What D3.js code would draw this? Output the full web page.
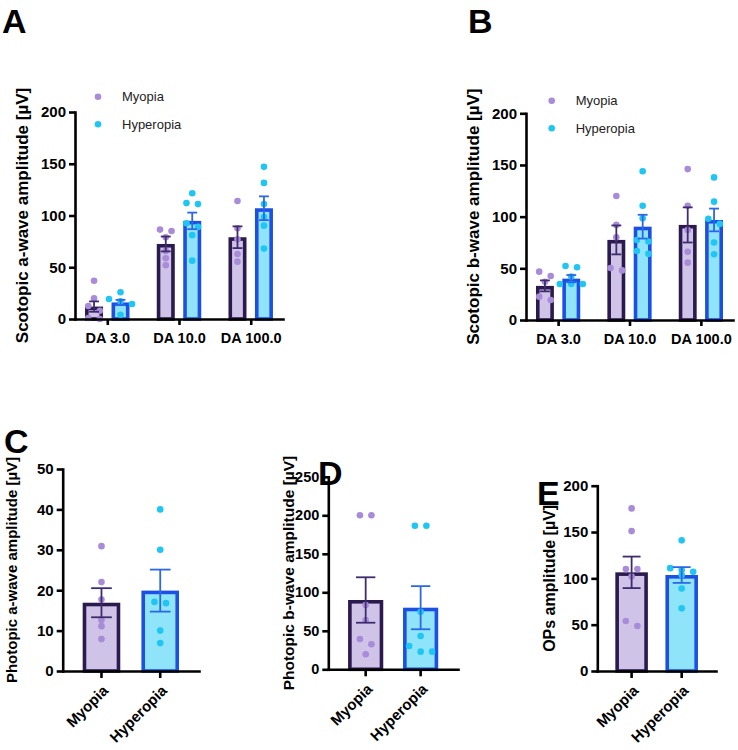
<!DOCTYPE html>
<html><head><meta charset="utf-8">
<script src="https://cdn.jsdelivr.net/npm/d3@7"></script>
<style>
body{margin:0;background:#fff}
text{font-family:"Liberation Sans",Arial,Helvetica,sans-serif}
</style>
</head><body>
<svg id="chart" width="738" height="750"></svg>
<script>
// ---------- DATA ----------
const groupsAB = ["DA 3.0", "DA 10.0", "DA 100.0"];
const seriesNames = ["Myopia", "Hyperopia"];

const aMyopiaMean = [12, 72.5, 79];
const aMyopiaSem  = [5, 7.2, 10.5];
const aHyperMean  = [16, 94.8, 107];
const aHyperSem   = [2.5, 8, 11.5];
const aMyopiaPts  = [[37, 20, 12.6, 8, 1, 0], [86.4, 85, 79, 65.8, 58.7, 51.9], [114, 87.7, 77, 62.8, 55.4]];
const aHyperPts   = [[25.8, 19.3, 17, 14.5, 4], [121.5, 112, 111, 92.5, 89, 81, 56.4], [147, 131.5, 111, 98.6, 90.2, 68]];

const bMyopiaMean = [33, 77.5, 92];
const bMyopiaSem  = [5.3, 14, 17];
const bHyperMean  = [40, 90.3, 96.8];
const bHyperSem   = [3.5, 11.5, 11];
const bMyopiaPts  = [[46.8, 42.6, 37, 22.6, 19.4], [120, 92, 80, 50.3, 48], [146, 110.6, 87, 66, 55.5]];
const bHyperPts   = [[52.3, 51, 42, 34.8, 34.8, 34.8], [144, 110.6, 98.4, 77.4, 76, 66.8, 64], [138, 114.5, 98, 93, 75, 63.6]];

const cMean = [16.9, 19.9];
const cSem  = [3.6, 5.2];
const cPts  = [[30.9, 22, 17.7, 12.6, 11.1, 7.9], [40, 30, 17.1, 16.8, 10, 6.9]];

const dMean = [90, 80];
const dSem  = [29.5, 28];
const dPts  = [[200, 200, 83.5, 64, 39.4, 32.5, 19.5], [186.5, 186.5, 74.8, 43.2, 30.3, 22.9, 22.9]];

const eMean = [106.5, 103.6];
const eSem  = [17, 8.5];
const ePts  = [[175.5, 151, 110, 110, 102, 54, 48.5], [141, 111, 109, 107, 103.6, 89, 67.6]];

const ticks200 = [0, 50, 100, 150, 200];
const ticks50  = [0, 10, 20, 30, 40, 50];
const ticks250 = [0, 50, 100, 150, 200, 250];

// ---------- STYLE ----------
const COL = {
  Myopia:    {fill: "#cfc3e8", stroke: "#2b1a4d", dot: "#a88bd9", err: "#3e2c6e"},
  Hyperopia: {fill: "#8fe4fa", stroke: "#1c4fe3", dot: "#1fc6f3", err: "#2c67e6"}
};
const AXW = 2.6, BARW = 3.6, R = 3.3;

const svg = d3.select("#chart");

function styleAxis(sel, fs) {
  sel.select(".domain").attr("stroke", "#000").attr("stroke-width", AXW).attr("stroke-linecap", "square");
  sel.selectAll(".tick line").attr("stroke", "#000").attr("stroke-width", AXW);
  sel.selectAll(".tick text").attr("fill", "#000").attr("font-weight", "bold").attr("font-size", fs)
     .attr("font-family", "'Liberation Sans',Arial,sans-serif");
}

function swarm(values, cx, y, spacing) {
  const sorted = values.map(v => ({v, py: y(v)})).sort((a, b) => a.py - b.py);
  const rows = [];
  sorted.forEach(p => {
    const last = rows[rows.length - 1];
    if (last && Math.abs(p.py - last[0].py) < R * 1.8) last.push(p); else rows.push([p]);
  });
  const out = [];
  rows.forEach(row => row.forEach((p, i) => out.push({v: p.v, x: cx + (i - (row.length - 1) / 2) * spacing, y: p.py})));
  return out;
}

function drawBar(g, s, cx, bw, y, mean, sem, pts) {
  const c = COL[s];
  g.append("rect")
    .attr("x", cx - bw / 2 + BARW / 2).attr("width", bw - BARW)
    .attr("y", y(mean) + BARW / 2).attr("height", y(0) - y(mean) - BARW / 2)
    .attr("fill", c.fill).attr("stroke", c.stroke).attr("stroke-width", BARW);
  g.selectAll(null).data(swarm(pts, cx, y, 11.5)).join("circle")
    .attr("cx", d => d.x).attr("cy", d => d.y).attr("r", R).attr("fill", c.dot);
  const cap = bw * 0.55;
  const e = g.append("g").attr("stroke", c.err).attr("stroke-width", 1.8).attr("fill", "none");
  e.append("line").attr("x1", cx).attr("x2", cx).attr("y1", y(mean - sem)).attr("y2", y(mean + sem));
  e.append("line").attr("x1", cx - cap / 2).attr("x2", cx + cap / 2).attr("y1", y(mean + sem)).attr("y2", y(mean + sem));
  e.append("line").attr("x1", cx - cap / 2).attr("x2", cx + cap / 2).attr("y1", y(mean - sem)).attr("y2", y(mean - sem));
}

function yTitle(g, text, x, yc, fs) {
  g.append("text").attr("transform", `translate(${x},${yc}) rotate(-90)`)
    .attr("text-anchor", "middle").attr("dy", "0.35em")
    .attr("font-weight", "bold").attr("font-size", fs).text(text);
}

function letter(t, x, y) {
  svg.append("text").attr("x", x).attr("y", y).attr("font-size", 34).attr("font-weight", "bold").text(t);
}

function groupedPanel(p, means, sems, pts) {
  const g = svg.append("g");
  const y = d3.scaleLinear().domain([0, p.max]).range([p.yBase, p.yTop]);
  const x = d3.scalePoint().domain(groupsAB).range([p.x0, p.x1]).padding(0.45);
  const half = x.step() * 0.31;
  const inner = d3.scaleBand().domain(seriesNames).range([-half, half]).paddingInner(0.32);
  seriesNames.forEach((s, si) => {
    groupsAB.forEach((gr, gi) => {
      drawBar(g, s, x(gr) + inner(s) + inner.bandwidth() / 2, inner.bandwidth(), y,
              means[si][gi], sems[si][gi], pts[si][gi]);
    });
  });
  const ay = g.append("g").attr("transform", `translate(${p.x0},0)`)
    .call(d3.axisLeft(y).tickValues(p.ticks).tickSize(6).tickSizeOuter(0).tickPadding(3));
  styleAxis(ay, 15);
  const ax = g.append("g").attr("transform", `translate(0,${p.yBase})`)
    .call(d3.axisBottom(x).tickSize(6).tickSizeOuter(0).tickPadding(8));
  styleAxis(ax, 14.5);
  yTitle(g, p.title, p.titleX, (p.yBase + p.yTop) / 2, 17);
  // legend
  seriesNames.forEach((s, i) => {
    const ly = p.legY + i * 27.6;
    g.append("circle").attr("cx", p.legX).attr("cy", ly).attr("r", R).attr("fill", COL[s].dot);
    g.append("text").attr("x", p.legX + 24).attr("y", ly).attr("dy", "0.35em")
      .attr("font-size", 13).attr("fill", "#222").text(s);
  });
  letter(p.letter, p.letterX, p.letterY);
}

function simplePanel(p, means, sems, pts) {
  const g = svg.append("g");
  const y = d3.scaleLinear().domain([0, p.max]).range([p.yBase, p.yTop]);
  const x = d3.scaleBand().domain(seriesNames).range([p.x0, p.x1]).paddingInner(p.padInner).paddingOuter(p.padOuter);
  seriesNames.forEach((s, si) => {
    drawBar(g, s, x(s) + x.bandwidth() / 2, x.bandwidth(), y, means[si], sems[si], pts[si]);
  });
  const ay = g.append("g").attr("transform", `translate(${p.x0},0)`)
    .call(d3.axisLeft(y).tickValues(p.ticks).tickSize(6).tickSizeOuter(0).tickPadding(3));
  styleAxis(ay, p.tickFs);
  const ax = g.append("g").attr("transform", `translate(0,${p.yBase})`)
    .call(d3.axisBottom(x).tickSize(7).tickSizeOuter(0));
  styleAxis(ax, 15);
  ax.selectAll(".tick text").attr("y", null).attr("dy", "0.35em").attr("text-anchor", "end")
    .attr("transform", "translate(4,17) rotate(-45)");
  yTitle(g, p.title, p.titleX, (p.yBase + p.yTop) / 2, p.titleFs);
  letter(p.letter, p.letterX, p.letterY);
}

groupedPanel({x0: 75, x1: 283, yBase: 319, yTop: 112, max: 200, ticks: ticks200,
  title: "Scotopic a-wave amplitude [µV]", titleX: 22, legX: 98, legY: 96.7,
  letter: "A", letterX: 2, letterY: 33},
  [aMyopiaMean, aHyperMean], [aMyopiaSem, aHyperSem], [aMyopiaPts, aHyperPts]);

groupedPanel({x0: 526, x1: 733, yBase: 320, yTop: 113.3, max: 200, ticks: ticks200,
  title: "Scotopic b-wave amplitude [µV]", titleX: 473, legX: 551.7, legY: 100.7,
  letter: "B", letterX: 468, letterY: 33},
  [bMyopiaMean, bHyperMean], [bMyopiaSem, bHyperSem], [bMyopiaPts, bHyperPts]);

simplePanel({x0: 62.7, x1: 199, yBase: 671, yTop: 469, max: 50, ticks: ticks50, padOuter: 0.34, padInner: 0.36,
  tickFs: 15, titleFs: 15,
  title: "Photopic a-wave amplitude [µV]", titleX: 12, letter: "C", letterX: 4, letterY: 453},
  cMean, cSem, cPts);

simplePanel({x0: 328.3, x1: 458, yBase: 669.3, yTop: 476.8, max: 250, ticks: ticks250, padOuter: 0.36, padInner: 0.36,
  tickFs: 14.5, titleFs: 15.5,
  title: "Photopic b-wave amplitude [µV]", titleX: 289, letter: "D", letterX: 318, letterY: 485},
  dMean, dSem, dPts);

simplePanel({x0: 597.3, x1: 716, yBase: 671, yTop: 485.7, max: 200, ticks: ticks200, padOuter: 0.36, padInner: 0.35,
  tickFs: 15, titleFs: 16,
  title: "OPs amplitude [µV]", titleX: 549, letter: "E", letterX: 537, letterY: 505},
  eMean, eSem, ePts);
</script>
</body></html>
